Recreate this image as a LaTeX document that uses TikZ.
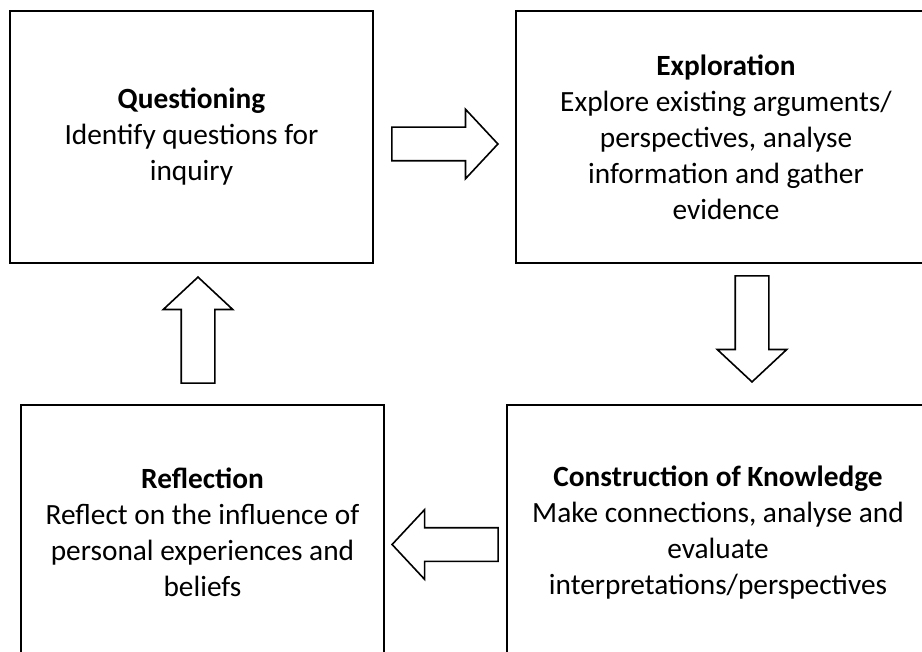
\documentclass[tikz,border=0pt]{standalone}
\usepackage{fontspec}
\setmainfont{Carlito}
\usetikzlibrary{shapes.arrows}

\begin{document}
\begin{tikzpicture}[x=0.75pt,y=-0.75pt,
  stage/.style={draw,line width=1.5pt,inner sep=0pt,align=center,font=\fontsize{22}{27}\selectfont},
  blockarrow/.style={draw,single arrow,anchor=tip,line width=1.2pt,minimum height=79.5pt,minimum width=0pt,
    inner sep=12pt,single arrow head extend=13.5pt,single arrow tip angle=94}]
  \useasboundingbox (0,0) rectangle (922,652);
  \node[stage,minimum width=272.25pt,minimum height=189pt] (quest) at (191.5,137) {\textbf{Questioning}\\Identify questions for\\inquiry};
  \node[stage,minimum width=315pt,minimum height=189pt] (explore) at (726,137) {\textbf{Exploration}\\Explore existing arguments/\\perspectives, analyse\\information and gather\\evidence};
  \node[stage,minimum width=316.5pt,minimum height=191.25pt] (construct) at (718,532.5) {\textbf{Construction of Knowledge}\\Make connections, analyse and\\evaluate\\interpretations/perspectives};
  \node[stage,minimum width=272.25pt,minimum height=191.25pt] (reflect) at (202.5,532.5) {\textbf{Reflection}\\Reflect on the influence of\\personal experiences and\\beliefs};
  \node[blockarrow] (qtoe) at (499,144) {};
  \node[blockarrow,shape border rotate=270] (etoc) at (752,383) {};
  \node[blockarrow,shape border rotate=180] (ctor) at (391,544.5) {};
  \node[blockarrow,shape border rotate=90] (rtoq) at (198,276) {};
\end{tikzpicture}
\end{document}
